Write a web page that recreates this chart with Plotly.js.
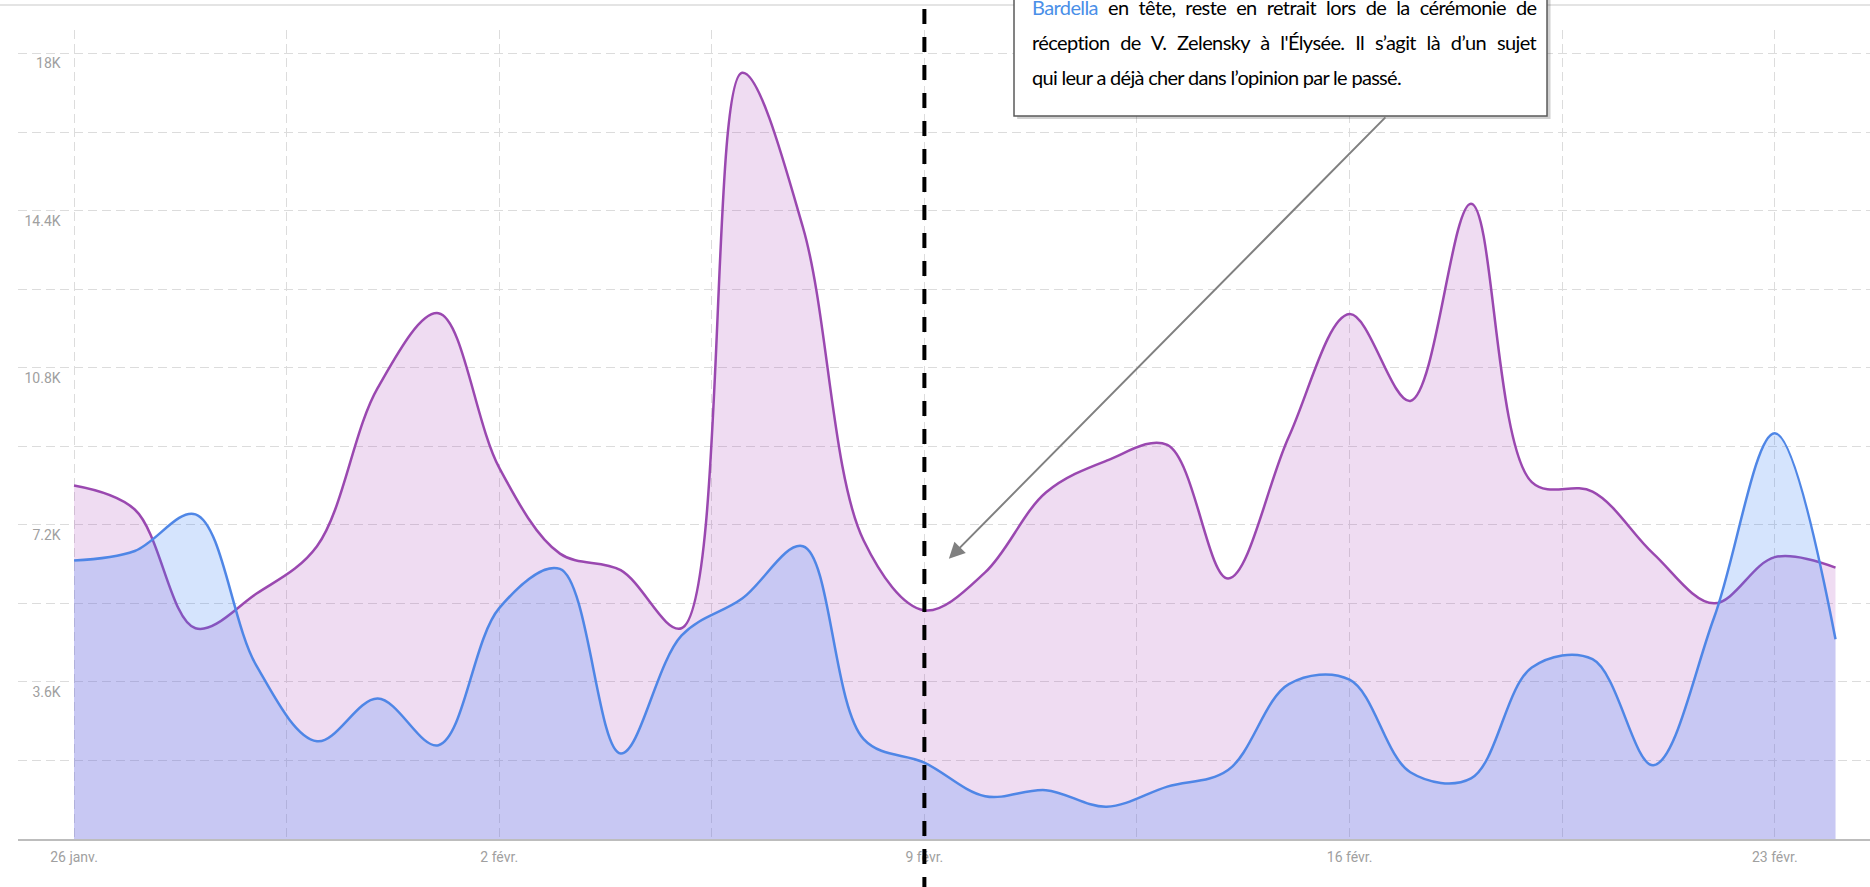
<!DOCTYPE html>
<html>
<head>
<meta charset="utf-8">
<script src="https://cdn.plot.ly/plotly-3.0.1.min.js"></script>
<style>
  html, body { margin: 0; padding: 0; background: #ffffff; }
  #chart { width: 1870px; height: 887px; }
</style>
</head>
<body>
<div id="chart"></div>
<script>
// ---- Data ----
const dates = [
  '2025-01-26','2025-01-27','2025-01-28','2025-01-29','2025-01-30','2025-01-31',
  '2025-02-01','2025-02-02','2025-02-03','2025-02-04','2025-02-05','2025-02-06',
  '2025-02-07','2025-02-08','2025-02-09','2025-02-10','2025-02-11','2025-02-12',
  '2025-02-13','2025-02-14','2025-02-15','2025-02-16','2025-02-17','2025-02-18',
  '2025-02-19','2025-02-20','2025-02-21','2025-02-22','2025-02-23','2025-02-24'
];
const purpleValues = [
  8100, 7550, 4830, 5620, 6710, 10340,
  12050, 8510, 6540, 6160, 4830, 17560,
  14020, 6840, 5240, 6110, 7940, 8670,
  9030, 5970, 9220, 12030, 10040, 14560,
  8180, 7960, 6540, 5400, 6460, 6220
];
const blueValues = [
  6380, 6600, 7440, 3980, 2240, 3220,
  2150, 5290, 6190, 1960, 4660, 5510,
  6710, 2290, 1750, 980, 1120, 740,
  1200, 1580, 3550, 3650, 1530, 1390,
  3930, 4120, 1690, 5070, 9300, 4580
];
// x gridline positions (every 3.5 days) and their labels
const xTickVals = [
  '2025-01-26','2025-01-29 12:00','2025-02-02','2025-02-05 12:00','2025-02-09',
  '2025-02-12 12:00','2025-02-16','2025-02-19 12:00','2025-02-23'
];
const xTickText = ['26 janv.','','2 févr.','','9 févr.','','16 févr.','','23 févr.'];
// y gridlines every 1.8K, labels every 3.6K
const yTickVals = [1800, 3600, 5400, 7200, 9000, 10800, 12600, 14400, 16200, 18000];
const yTickText = ['', '3.6K', '', '7.2K', '', '10.8K', '', '14.4K', '', '18K'];
// event marker and annotation text
const eventDate = '2025-02-09';
const arrowTipDate = '2025-02-09 09:40';
const arrowTipValue = 6420;
const TIGHT = 'letter-spacing:-0.7px';
const JUST1 = 'letter-spacing:-0.6px;word-spacing:5.5px';
const JUST2 = 'letter-spacing:-0.6px;word-spacing:6.2px';
const noteLines = [
  '<span style="color:#4a8fe8;' + JUST1 + '">Bardella</span><span style="' + JUST1 + '"> en tête, reste en retrait lors de la cérémonie de</span>',
  '<span style="' + JUST2 + '">réception de V. Zelensky à l\'Élysée. Il s’agit là d’un sujet</span>',
  '<span style="' + TIGHT + '">qui leur a déjà cher dans l’opinion par le passé.</span>'
];

// ---- Traces ----
const traces = [
  {
    x: dates, y: purpleValues, type: 'scatter', mode: 'lines',
    name: 'Série violette',
    line: { color: '#9a48b0', width: 2.5, shape: 'spline', smoothing: 1 },
    fill: 'tozeroy', fillcolor: 'rgba(160,45,180,0.17)',
    hoverinfo: 'skip'
  },
  {
    x: dates, y: blueValues, type: 'scatter', mode: 'lines',
    name: 'Série bleue',
    line: { color: '#4f86e6', width: 2.5, shape: 'spline', smoothing: 1 },
    fill: 'tozeroy', fillcolor: 'rgba(66,133,244,0.22)',
    hoverinfo: 'skip'
  }
];

const tickFont = { family: 'Roboto, sans-serif', size: 14, color: '#a0a0a0' };
const noteFont = { family: 'Lato, sans-serif', size: 20, color: '#000000' };

const lineYs = [1.0280, 0.9846, 0.9425];
const annotations = noteLines.map((t, i) => ({
  xref: 'paper', yref: 'paper', x: 0.5464, y: lineYs[i],
  xanchor: 'left', yanchor: 'middle', showarrow: false,
  text: t, font: noteFont, align: 'left'
}));
annotations.unshift({
  xref: 'x', yref: 'y', x: arrowTipDate, y: arrowTipValue,
  ax: 438, ay: -443, axref: 'pixel', ayref: 'pixel',
  text: '', showarrow: true, arrowhead: 2, arrowsize: 1.6, arrowwidth: 2,
  arrowcolor: '#808080', standoff: 0, startstandoff: 0
});

const layout = {
  width: 1870, height: 887,
  margin: { l: 18, r: 0, t: 30, b: 48, pad: 0 },
  paper_bgcolor: '#ffffff', plot_bgcolor: '#ffffff',
  showlegend: false,
  xaxis: {
    type: 'date',
    range: ['2025-01-25 01:52', '2025-02-24 13:38'],
    tickmode: 'array', tickvals: xTickVals, ticktext: xTickText,
    showgrid: true, gridcolor: '#dcdcdc', gridwidth: 1, griddash: '9px,5px',
    showline: true, linecolor: '#bdbdbd', linewidth: 2,
    zeroline: false, ticks: '', tickfont: tickFont, ticklabelstandoff: 4,
    fixedrange: true
  },
  yaxis: {
    range: [0, 18540],
    tickmode: 'array', tickvals: yTickVals, ticktext: yTickText,
    showgrid: true, gridcolor: '#dcdcdc', gridwidth: 1, griddash: '9px,5px',
    zeroline: false, showline: false, ticks: '',
    anchor: 'free', position: 0.023,
    tickfont: tickFont, ticklabelshift: 10,
    fixedrange: true
  },
  shapes: [
    { type: 'line', xref: 'paper', yref: 'paper', x0: -0.02, x1: 1, y0: 1.0309, y1: 1.0309,
      line: { color: '#e4e4e4', width: 2 }, layer: 'above' },
    { type: 'line', xref: 'x', yref: 'paper', x0: eventDate, x1: eventDate, y0: -0.1, y1: 1.1,
      line: { color: '#000000', width: 4, dash: '15px,13px' }, layer: 'above' },
    { type: 'rect', xref: 'paper', yref: 'paper', x0: 0.5395, x1: 0.8275, y0: 0.8900, y1: 1.2,
      fillcolor: 'rgba(0,0,0,0.18)', line: { width: 0 }, layer: 'above' },
    { type: 'rect', xref: 'paper', yref: 'paper', x0: 0.5378, x1: 0.8256, y0: 0.8937, y1: 1.2,
      fillcolor: '#ffffff', line: { color: '#5a5a5a', width: 1.5 }, layer: 'above' }
  ],
  annotations: annotations
};

Plotly.newPlot('chart', traces, layout, { displayModeBar: false, staticPlot: true });
</script>
</body>
</html>
